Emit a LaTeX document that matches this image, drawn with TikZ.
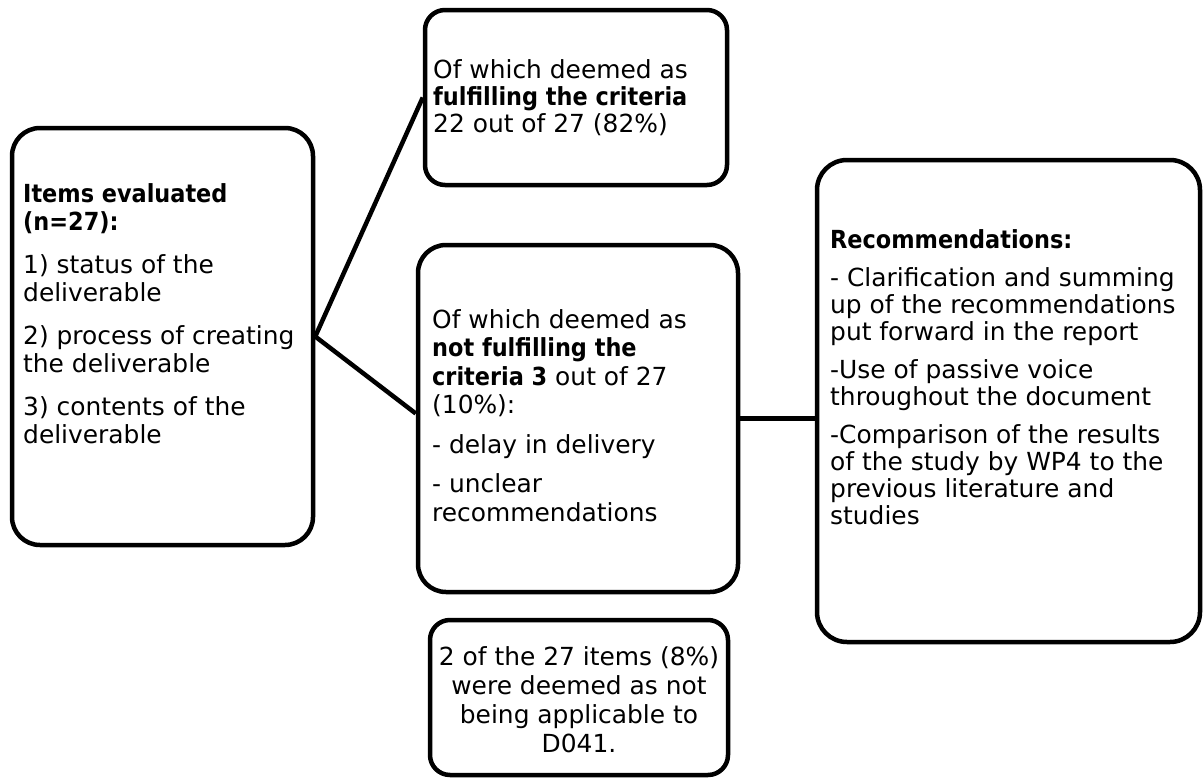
\documentclass[tikz,border=0pt]{standalone}
\usepackage{fontspec}
\setmainfont{DejaVu Sans}[BoldFont={DejaVu Sans Condensed Bold}]

\tikzset{
  card/.style={draw=black, line width=4.5pt, rounded corners=#1, inner sep=0pt, fill=white},
  link/.style={draw=black, line width=4.5pt},
  txt/.style={inner sep=0pt, anchor=base west},
}
\newcommand{\cardtext}[4]{\parbox[t]{#1}{\raggedright\fontsize{24.9}{#2}\selectfont\setlength{\parskip}{#3}#4}}

\begin{document}
\begin{tikzpicture}[x=1pt, y=-1pt]
\useasboundingbox (0,0) rectangle (1203,779);

% boxes
\node[card=28, minimum width=301pt, minimum height=417pt] (items) at (162.5,336.5) {};
\node[card=20, minimum width=302pt, minimum height=175pt] (pass) at (576,97.5) {};
\node[card=28, minimum width=320pt, minimum height=347pt] (fail) at (578,418.5) {};
\node[card=30, minimum width=383pt, minimum height=482pt] (recs) at (1008.5,401) {};
\node[card=20, minimum width=298pt, minimum height=155pt] (na) at (579,697.5) {};

% connectors
\draw[link] (items.east) -- (pass.west);
\draw[link] (items.east) -- ([yshift=5pt]fail.west);
\draw[link] (fail.east) -- (fail.east -| recs.west);

% texts
\node[txt] (itemstext) at (23,202) {\cardtext{290pt}{28pt}{15pt}{%
\textbf{Items evaluated\\(n=27):}\par
1) status of the\\deliverable\par
2) process of creating\\the deliverable\par
3) contents of the\\deliverable}};

\node[txt] (passtext) at (433,78) {\cardtext{300pt}{27pt}{0pt}{%
Of which deemed as\\\textbf{fulfilling the criteria}\\22 out of 27 (82\%)}};

\node[txt] (failtext) at (432,328) {\cardtext{300pt}{28.5pt}{11pt}{%
Of which deemed as\\\textbf{not fulfilling the}\\\textbf{criteria 3} out of 27\\(10\%):\par
- delay in delivery\par
- unclear\\recommendations}};

\node[txt] (recstext) at (830,248) {\cardtext{370pt}{27pt}{11pt}{%
\textbf{Recommendations:}\par
- Clarification and summing\\up of the recommendations\\put forward in the report\par
-Use of passive voice\\throughout the document\par
-Comparison of the results\\of the study by WP4 to the\\previous literature and\\studies}};

\node[inner sep=0pt, anchor=base] (natext) at (579,665) {\parbox[t]{290pt}{\centering\fontsize{24.9}{29}\selectfont
2 of the 27 items (8\%)\\were deemed as not\\being applicable to\\D041.}};
\end{tikzpicture}
\end{document}
